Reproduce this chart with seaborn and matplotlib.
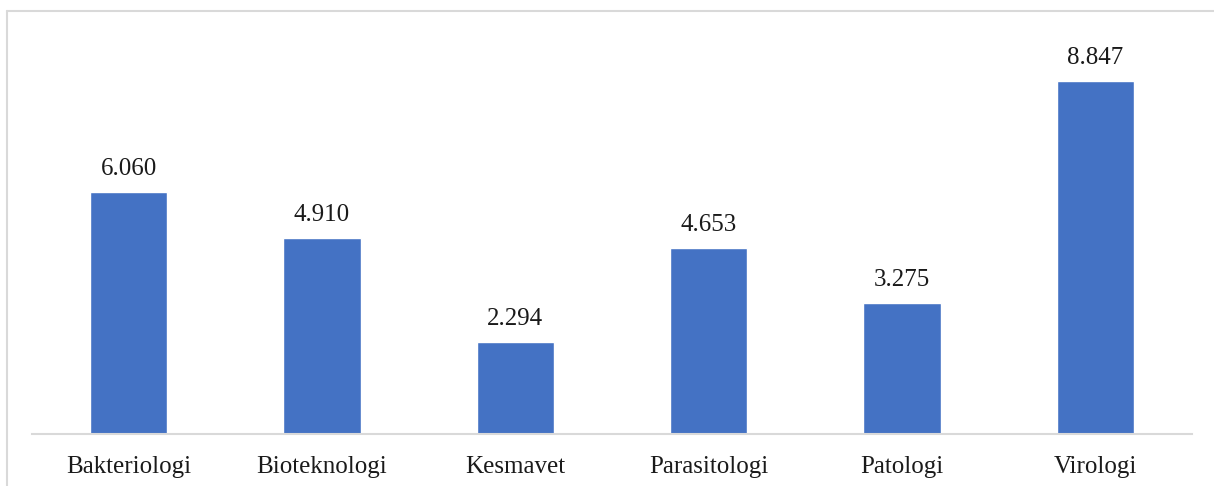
import pandas as pd
import numpy as np
import matplotlib
matplotlib.use('Agg')
import matplotlib.pyplot as plt
import seaborn as sns
from matplotlib.lines import Line2D

departments = ['Bakteriologi', 'Bioteknologi', 'Kesmavet', 'Parasitologi', 'Patologi', 'Virologi']
counts = [6.060, 4.910, 2.294, 4.653, 3.275, 8.847]
count_labels = ['6.060', '4.910', '2.294', '4.653', '3.275', '8.847']

data = pd.DataFrame({'Departemen': departments, 'Jumlah': counts})

sns.set_style('white')
plt.rcParams['font.family'] = ['Liberation Serif', 'DejaVu Serif']

fig = plt.figure(figsize=(12.14, 4.86), dpi=100)
ax = fig.add_axes([32 / 1214, 52 / 486, 1160 / 1214, 399 / 486])

sns.barplot(x='Departemen', y='Jumlah', data=data, color='#4472C4', width=0.4,
            saturation=1, ax=ax)

for i, lab in enumerate(count_labels):
    ax.text(i, counts[i] + 0.3, lab, ha='center', va='bottom', fontsize=18, color='#1a1a1a')

ax.set_ylim(0, 10)
ax.set_xlim(-0.5, len(departments) - 0.5)
ax.set_yticks([])
ax.set_xlabel('')
ax.set_ylabel('')
ax.tick_params(axis='x', length=0, labelsize=18, pad=16, colors='#1a1a1a')
for s in ['top', 'right', 'left']:
    ax.spines[s].set_visible(False)
ax.spines['bottom'].set_color('#d9d9d9')
ax.spines['bottom'].set_linewidth(1.5)

# outer chart frame (top and left only visible)
fig.add_artist(Line2D([7 / 1214, 7 / 1214], [0, 1 - 11 / 486], transform=fig.transFigure,
                      color='#d9d9d9', lw=1.5))
fig.add_artist(Line2D([7 / 1214, 1], [1 - 11 / 486, 1 - 11 / 486], transform=fig.transFigure,
                      color='#d9d9d9', lw=1.5))

plt.savefig('out.png', dpi=100)
